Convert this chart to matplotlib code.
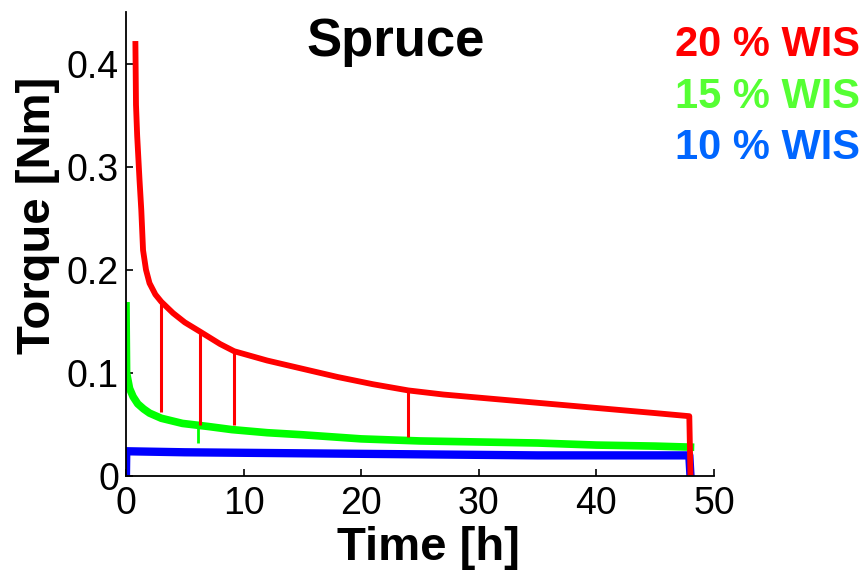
import matplotlib
matplotlib.use("Agg")
import matplotlib.pyplot as plt

plt.rcParams['font.family'] = ['Liberation Sans', 'DejaVu Sans']

# ---- data ----
red_t = [0.8, 0.85, 0.95, 1.15, 1.3, 1.45, 1.7, 2.0, 2.5, 3.0, 4.0, 5.0, 6.3, 8.0, 9.2,
         12, 15, 18, 21, 24, 27, 30, 33, 36, 39, 42, 45, 47.9, 48.0]
red_v = [0.419, 0.36, 0.33, 0.287, 0.258, 0.219, 0.200, 0.187, 0.176, 0.169, 0.158, 0.149,
         0.140, 0.128, 0.121, 0.112, 0.104, 0.096, 0.089, 0.083, 0.079, 0.076, 0.073,
         0.070, 0.067, 0.064, 0.061, 0.058, 0.0]
red_spike_t = [3.0, 6.3, 9.2, 24.0]
red_spike_top = [0.169, 0.140, 0.121, 0.083]
red_spike_bottom = [0.062, 0.049, 0.049, 0.038]

green_t = [0.0, 0.05, 0.3, 0.6, 1.0, 1.5, 2.0, 3.0, 4.8, 7, 9, 12, 15, 20, 25, 30, 35, 40, 45, 48]
green_v = [0.165, 0.100, 0.085, 0.077, 0.070, 0.065, 0.061, 0.056, 0.051, 0.048, 0.045,
           0.042, 0.040, 0.036, 0.034, 0.033, 0.032, 0.030, 0.029, 0.028]
green_spike_t = [6.1]
green_spike_top = [0.049]
green_spike_bottom = [0.032]

blue_t = [0.0, 0.02, 5, 15, 25, 35, 47.9, 48.0]
blue_v = [0.005, 0.024, 0.023, 0.022, 0.021, 0.020, 0.020, 0.0]

legend_labels = ['20 % WIS', '15 % WIS', '10 % WIS']
legend_colors = ['#FF0000', '#55FF33', '#0066FF']

xticks = [0, 10, 20, 30, 40, 50]
yticks = [0, 0.1, 0.2, 0.3, 0.4]
ytick_labels = ['0', '0.1', '0.2', '0.3', '0.4']

# ---- figure ----
fig = plt.figure(figsize=(8.68, 5.70), dpi=100)
ax = fig.add_axes([126/868, 1-476/570, (714-126)/868, (476-12)/570])

ax.plot(green_t, green_v, color='#00FF00', lw=5.5, solid_joinstyle='round')
ax.vlines(green_spike_t, green_spike_bottom, green_spike_top, color='#00FF00', lw=2)
ax.plot(blue_t, blue_v, color='#0000FF', lw=6.0, solid_joinstyle='round')
ax.plot(red_t, red_v, color='#FF0000', lw=4.2, solid_joinstyle='round')
ax.vlines(red_spike_t, red_spike_bottom, red_spike_top, color='#FF0000', lw=2.2)

ax.set_xlim(0, 50)
ax.set_ylim(0, 0.45)
ax.set_xticks(xticks)
ax.set_yticks(yticks)
ax.set_yticklabels(ytick_labels)
ax.tick_params(direction='in', length=5, width=1.2, labelsize=27, pad=5)
ax.tick_params(axis='x', pad=7)
for s in ['top', 'right']:
    ax.spines[s].set_visible(False)
for s in ['left', 'bottom']:
    ax.spines[s].set_linewidth(1.3)

fig.text(38/868, 1-215/570, 'Torque [Nm]', rotation=90, fontsize=34, fontweight='bold',
         ha='center', va='center')
fig.text(428/868, 1-548/570, 'Time [h]', fontsize=34, fontweight='bold',
         ha='center', va='center')
fig.text(396/868, 1-42/570, 'Spruce', fontsize=38, fontweight='bold',
         ha='center', va='center')

for lab, col, yc in zip(legend_labels, legend_colors, [45, 97, 148]):
    fig.text(860/868, 1-yc/570, lab, color=col, fontsize=30, fontweight='bold',
             ha='right', va='center')

fig.savefig('out.png', dpi=100)
